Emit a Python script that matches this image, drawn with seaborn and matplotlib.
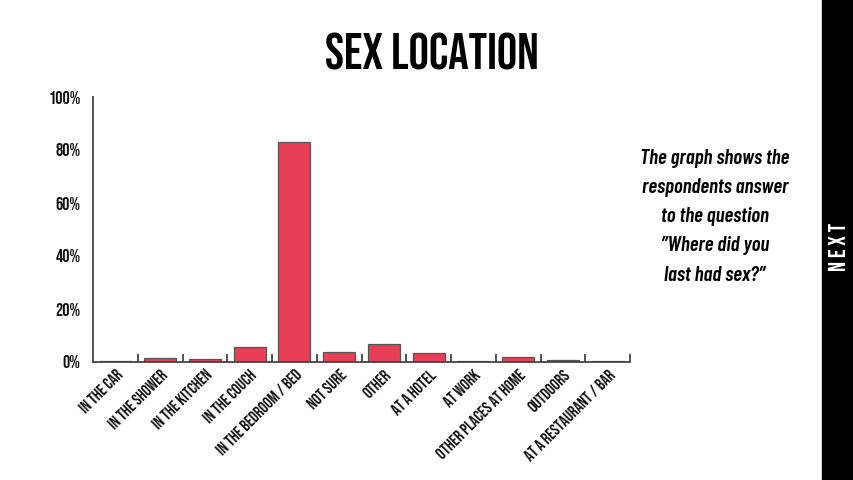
import numpy as np
import pandas as pd
import matplotlib.pyplot as plt
import matplotlib.transforms as mtransforms
import seaborn as sns
from matplotlib.ticker import FixedLocator, PercentFormatter

locations = ['IN THE CAR', 'IN THE SHOWER', 'IN THE KITCHEN', 'IN THE COUCH',
             'IN THE BEDROOM / BED', 'NOT SURE', 'OTHER', 'AT A HOTEL', 'AT WORK',
             'OTHER PLACES AT HOME', 'OUTDOORS', 'AT A RESTAURANT / BAR']
shares = [0.2, 1.4, 1.0, 5.7, 82.9, 3.6, 6.8, 3.5, 0.2, 1.9, 0.6, 0.4]

df = pd.DataFrame({'location': locations, 'share': shares})

sns.set_theme(style='white')
plt.rcParams['font.family'] = ['Bebas Neue', 'DejaVu Sans']

fig = plt.figure(figsize=(8.54, 4.8), dpi=100)
ax = fig.add_axes([93 / 854, 1 - 362 / 480, (630 - 93) / 854, (362 - 97) / 480])

sns.barplot(data=df, x='location', y='share', color='#e83f57', width=0.71,
            edgecolor='#555555', linewidth=0.9, saturation=1, ax=ax)

ax.set_xlim(-0.5, len(locations) - 0.5)
ax.set_ylim(0, 100)
ax.set_xlabel('')
ax.set_ylabel('')
sns.despine(ax=ax)
for s in ['left', 'bottom']:
    ax.spines[s].set_color('#444444')
    ax.spines[s].set_linewidth(1.3)

ax.set_yticks([0, 20, 40, 60, 80, 100])
ax.yaxis.set_major_formatter(PercentFormatter(decimals=0))
ax.tick_params(axis='y', direction='in', length=13, width=1.3, color='#444444',
               labelsize=13, labelcolor='#111111', pad=9)

ax.set_xticks(range(len(locations)))
ax.set_xticklabels(locations, rotation=45, ha='right', va='top',
                   rotation_mode='anchor', fontsize=12, color='#111111')
shift = mtransforms.ScaledTranslation(11 / 100, 0, fig.dpi_scale_trans)
for t in ax.get_xticklabels():
    t.set_transform(t.get_transform() + shift)
ax.tick_params(axis='x', which='major', length=0, pad=4)
ax.xaxis.set_minor_locator(FixedLocator(np.arange(0.5, len(locations), 1.0)))
ax.tick_params(axis='x', which='minor', direction='in', length=6, width=1.3,
               color='#444444', bottom=True)

fig.text(432 / 854, 1 - 52 / 480, 'SEX LOCATION', ha='center', va='center',
         fontsize=36.5, color='black')

note = ['The graph shows the', 'respondents answer', 'to the question',
        '\u201dWhere did you', 'last had sex?\u201d']
for i, line in enumerate(note):
    fig.text(715 / 854, 1 - (158 + 29.3 * i) / 480, line, ha='center', va='center',
             fontsize=15, fontstyle='italic', fontweight=600, color='black',
             family=['Barlow Condensed', 'DejaVu Sans'])

fig.patches.append(plt.Rectangle((822 / 854, 0), 32 / 854, 1, color='black',
                                 transform=fig.transFigure, zorder=0))
fig.text(838 / 854, 1 - 247 / 480, 'N E X T', rotation=90, ha='center', va='center',
         fontsize=17, color='white')

fig.savefig('out.png', dpi=100)
